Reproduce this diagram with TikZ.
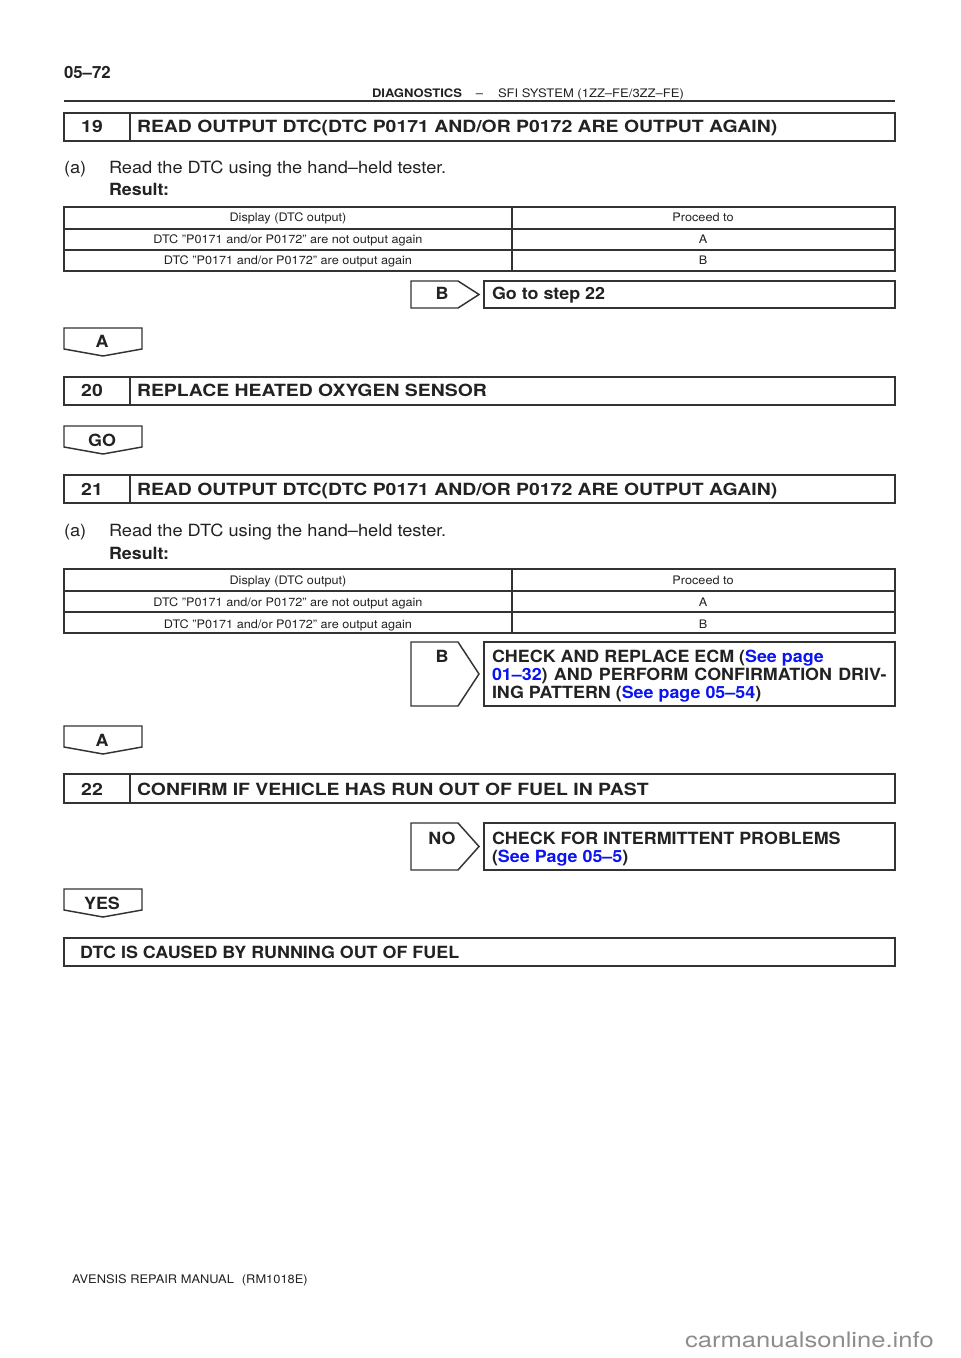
\documentclass[tikz,border=0pt]{standalone}
\usepackage{fontspec}
\setmainfont{TeX Gyre Heros}
\newfontfamily\titlefam[FakeStretch=1.155]{TeX Gyre Heros}
\newfontfamily\boxfam[FakeStretch=1.065]{TeX Gyre Heros}
\newfontfamily\bodyfam[FakeStretch=1.084]{TeX Gyre Heros}
\newfontfamily\cellfam[FakeStretch=1.08]{TeX Gyre Heros}
\newfontfamily\hdrfam[FakeStretch=1.11]{TeX Gyre Heros}
\newfontfamily\wmfam[FakeStretch=1.2]{TeX Gyre Heros}
\definecolor{ink}{HTML}{222222}
\definecolor{frame}{HTML}{333333}
\definecolor{linkblue}{HTML}{0A14F0}
\definecolor{wm}{HTML}{8C8C8C}
\begin{document}
\begin{tikzpicture}[x=0.75pt,y=-0.75pt,
  every node/.style={inner sep=0pt,outer sep=0pt,text=ink},
  boxline/.style={draw=frame,line width=1.1pt},
  thinline/.style={draw=frame,line width=0.9pt},
  titlefont/.style={font=\titlefam\fontsize{12.6}{15}\bfseries\selectfont},
  headfont/.style={font=\boxfam\fontsize{12.6}{15}\bfseries\selectfont},
  bodyfont/.style={font=\bodyfam\fontsize{12.6}{15}\selectfont},
  cellfont/.style={font=\cellfam\fontsize{8.8}{10}\selectfont},
  smallhead/.style={font=\hdrfam\fontsize{8.8}{10}\selectfont},
  lnk/.style={text=linkblue}
]
\useasboundingbox (0,0) rectangle (960,1358);
\fill[white] (0,0) rectangle (960,1358);

% ---------- page header ----------
\node[font=\fontsize{12.6}{15}\bfseries\selectfont,anchor=base west] (pgno) at (64,79) {05–72};
\draw[thinline] (64,101) -- (895,101);
\node[smallhead,anchor=base west] (hdrA) at (372,98) {\bfseries DIAGNOSTICS};
\node[smallhead,anchor=base] (hdrB) at (479.5,98) {–};
\node[smallhead,anchor=base west] (hdrC) at (498,98) {SFI SYSTEM (1ZZ–FE/3ZZ–FE)};

% ---------- step 19 ----------
\draw[boxline] (64,113) rectangle (895,141);
\draw[boxline] (130,113) -- (130,141);
\node[titlefont,anchor=base] (n19) at (92,133) {19};
\node[titlefont,anchor=base west] (t19) at (137,133) {READ OUTPUT DTC(DTC P0171 AND/OR P0172 ARE OUTPUT AGAIN)};
\node[bodyfont,anchor=base west] (a19) at (64,174) {(a)};
\node[bodyfont,anchor=base west] (r19) at (109,174) {Read the DTC using the hand–held tester.};
\node[headfont,anchor=base west] (res19) at (109,196) {Result:};

% table 1
\draw[thinline] (64,207) rectangle (895,271);
\draw[thinline] (64,229) -- (895,229);
\draw[thinline] (64,250) -- (895,250);
\draw[thinline] (512,207) -- (512,271);
\node[cellfont,anchor=base] (c11) at (288,222) {Display (DTC output)};
\node[cellfont,anchor=base] (c12) at (703,222) {Proceed to};
\node[cellfont,anchor=base] (c21) at (288,244) {DTC ”P0171 and/or P0172” are not output again};
\node[cellfont,anchor=base] (c22) at (703,244) {A};
\node[cellfont,anchor=base] (c31) at (288,265) {DTC ”P0171 and/or P0172” are output again};
\node[cellfont,anchor=base] (c32) at (703,265) {B};

% B -> go to step 22
\draw[boxline] (411,281) -- (458,281) -- (479,294.5) -- (458,308) -- (411,308) -- cycle;
\node[headfont,anchor=base] (b1) at (442,300) {B};
\draw[boxline] (484,281) rectangle (895,308);
\node[headfont,anchor=base west] (go22) at (492,300) {Go to step 22};

% A tab
\draw[boxline] (64,328) -- (142,328) -- (142,349) -- (103,356) -- (64,349) -- cycle;
\node[headfont,anchor=base] (tabA1) at (102,348) {A};

% ---------- step 20 ----------
\draw[boxline] (64,377) rectangle (895,405);
\draw[boxline] (130,377) -- (130,405);
\node[titlefont,anchor=base] (n20) at (92,397) {20};
\node[titlefont,anchor=base west] (t20) at (137,397) {REPLACE HEATED OXYGEN SENSOR};

% GO tab
\draw[boxline] (64,426) -- (142,426) -- (142,447) -- (103,454) -- (64,447) -- cycle;
\node[headfont,anchor=base] (tabGO) at (102,446) {GO};

% ---------- step 21 ----------
\draw[boxline] (64,475) rectangle (895,503);
\draw[boxline] (130,475) -- (130,503);
\node[titlefont,anchor=base] (n21) at (92,495) {21};
\node[titlefont,anchor=base west] (t21) at (137,495) {READ OUTPUT DTC(DTC P0171 AND/OR P0172 ARE OUTPUT AGAIN)};
\node[bodyfont,anchor=base west] (a21) at (64,536) {(a)};
\node[bodyfont,anchor=base west] (r21) at (109,536) {Read the DTC using the hand–held tester.};
\node[headfont,anchor=base west] (res21) at (109,559) {Result:};

% table 2
\draw[thinline] (64,569) rectangle (895,633);
\draw[thinline] (64,591) -- (895,591);
\draw[thinline] (64,612) -- (895,612);
\draw[thinline] (512,569) -- (512,633);
\node[cellfont,anchor=base] (d11) at (288,584) {Display (DTC output)};
\node[cellfont,anchor=base] (d12) at (703,584) {Proceed to};
\node[cellfont,anchor=base] (d21) at (288,606) {DTC ”P0171 and/or P0172” are not output again};
\node[cellfont,anchor=base] (d22) at (703,606) {A};
\node[cellfont,anchor=base] (d31) at (288,628) {DTC ”P0171 and/or P0172” are output again};
\node[cellfont,anchor=base] (d32) at (703,628) {B};

% B -> check ECM
\draw[boxline] (411,642) -- (458,642) -- (479,674) -- (458,706) -- (411,706) -- cycle;
\node[headfont,anchor=base] (b2) at (442,662) {B};
\draw[boxline] (484,642) rectangle (895,706);
\node[headfont,anchor=base west] (e1) at (492,662) {CHECK AND REPLACE ECM (\textcolor{linkblue}{See page}};
\node[headfont,anchor=base west] (e2) at (492,680) {\makebox[296pt][s]{\textcolor{linkblue}{01–32}) AND PERFORM CONFIRMATION DRIV-}};
\node[headfont,anchor=base west] (e3) at (492,698) {ING PATTERN (\textcolor{linkblue}{See page 05–54})};

% A tab 2
\draw[boxline] (64,726) -- (142,726) -- (142,747) -- (103,754) -- (64,747) -- cycle;
\node[headfont,anchor=base] (tabA2) at (102,746) {A};

% ---------- step 22 ----------
\draw[boxline] (64,774) rectangle (895,803);
\draw[boxline] (130,774) -- (130,803);
\node[titlefont,anchor=base] (n22) at (92,795) {22};
\node[titlefont,anchor=base west] (t22) at (137,795) {CONFIRM IF VEHICLE HAS RUN OUT OF FUEL IN PAST};

% NO -> intermittent
\draw[boxline] (411,823) -- (458,823) -- (479,846.5) -- (458,870) -- (411,870) -- cycle;
\node[headfont,anchor=base] (no) at (442,844) {NO};
\draw[boxline] (484,823) rectangle (895,870);
\node[headfont,anchor=base west] (i1) at (492,844) {CHECK FOR INTERMITTENT PROBLEMS};
\node[headfont,anchor=base west] (i2) at (492,862) {(\textcolor{linkblue}{See Page 05–5})};

% YES tab
\draw[boxline] (64,889) -- (142,889) -- (142,910) -- (103,917) -- (64,910) -- cycle;
\node[headfont,anchor=base] (yes) at (102,909) {YES};

% final
\draw[boxline] (64,938) rectangle (895,966);
\node[headfont,anchor=base west] (fin) at (80,958) {DTC IS CAUSED BY RUNNING OUT OF FUEL};

% footer
\node[font=\bodyfam\fontsize{8.9}{11}\selectfont,anchor=base west] (foot) at (72,1283) {AVENSIS REPAIR MANUAL\hspace{6pt}(RM1018E)};
\node[font=\wmfam\fontsize{16}{19}\selectfont,text=wm,anchor=base west] (wmark) at (685,1347) {carmanualsonline.info};
\end{tikzpicture}
\end{document}
